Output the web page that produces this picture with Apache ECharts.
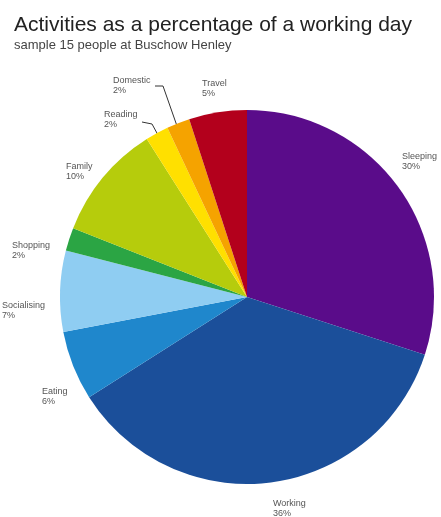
<!DOCTYPE html>
<html><head><meta charset="utf-8">
<script src="https://cdn.jsdelivr.net/npm/echarts@6/dist/echarts.min.js"></script>
<style>html,body{margin:0;padding:0;background:#fff}#c{width:441px;height:517px}</style>
</head><body><div id="c"></div>
<script>
const categories = ['Sleeping','Working','Eating','Socialising','Shopping','Family','Reading','Domestic','Travel'];
const percentages = [30,36,6,7,2,10,2,2,5];
const colors = ['#5a0c8a','#1b4f9a','#1f87cc','#8fcdf2','#2ba544','#b6cc0c','#ffe000','#f5a300','#b3001c'];
const withLeader = ['Reading','Domestic'];

// label anchor (top-left of text block)
const labelSpots = {
  Sleeping:[402,152], Working:[273,499], Eating:[42,387], Socialising:[2,301],
  Shopping:[12,241], Family:[66,162], Reading:[104,110], Domestic:[113,76], Travel:[202,79]
};

const chart = echarts.init(document.getElementById('c'));
chart.setOption({
  animation:false,
  title:{
    text:'Activities as a percentage of a working day',
    subtext:'sample 15 people at Buschow Henley',
    left:14, top:15, itemGap:3, padding:0,
    textStyle:{fontFamily:'Liberation Sans, Arial, sans-serif',fontSize:21,fontWeight:'normal',color:'#222'},
    subtextStyle:{fontFamily:'Liberation Sans, Arial, sans-serif',fontSize:13,color:'#444'}
  },
  series:[{
    type:'pie',
    center:[247,297],
    radius:187,
    startAngle:90,
    clockwise:true,
    label:{
      show:true, position:'outside', overflow:'none',
      formatter:p=>p.name+'\n'+p.value+'%',
      fontFamily:'Liberation Sans, Arial, sans-serif',
      fontSize:9, color:'#555', lineHeight:10, align:'left'
    },
    labelLine:{show:false,length:14,length2:0},
    labelLayout:function(p){
      const name = categories[p.dataIndex];
      const s = labelSpots[name];
      if (!s) return {};
      const out = {x:s[0], y:s[1], align:'left', verticalAlign:'top', hideOverlap:false};
      if (name==='Domestic') out.labelLinePoints=[[s[0]+42,s[1]+10],[s[0]+50,s[1]+10],[s[0]+64,s[1]+50]];
      if (name==='Reading') out.labelLinePoints=[[s[0]+38,s[1]+12],[s[0]+48,s[1]+14],[s[0]+54,s[1]+25]];
      return out;
    },
    data:categories.map((n,i)=>({
      name:n, value:percentages[i], itemStyle:{color:colors[i]},
      labelLine: withLeader.includes(n)?{show:true,lineStyle:{color:'#333',width:1}}:undefined
    }))
  }]
});
</script></body></html>
